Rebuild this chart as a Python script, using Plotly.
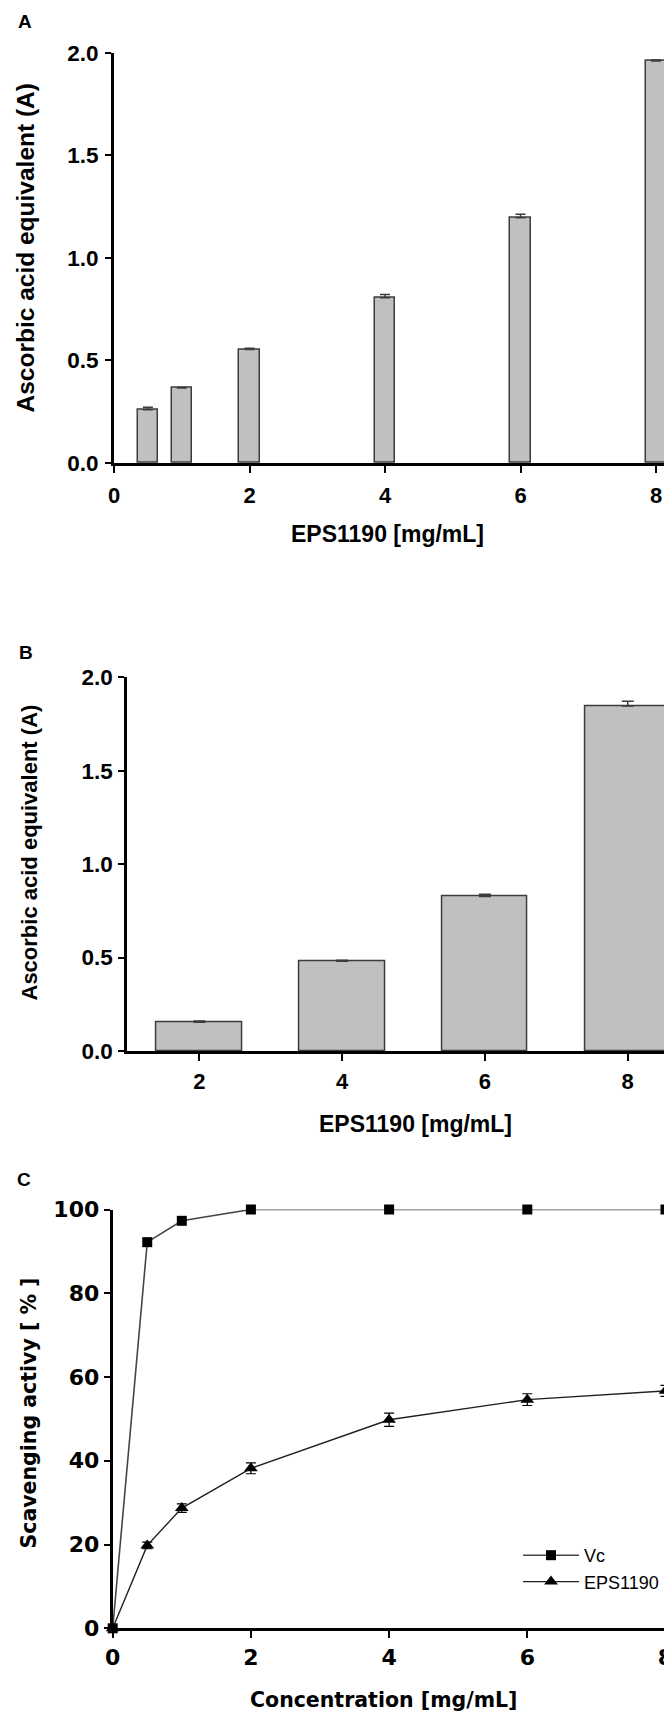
import plotly.graph_objects as go

W, H = 672, 1714
OFF = 8  # the page body adds an 8px margin; shift layout so it lands on the reference grid

# ---------------- data ----------------
# Panel A
a_conc = [0.5, 1, 2, 4, 6, 8]
a_val = [0.260, 0.366, 0.553, 0.806, 1.195, 1.960]
a_err = [0.012, 0.002, 0.006, 0.015, 0.017, 0.004]

# Panel B
b_conc = [2, 4, 6, 8]
b_val = [0.154, 0.481, 0.827, 1.846]
b_err = [0.006, 0.005, 0.012, 0.026]

# Panel C
c_conc = [0, 0.5, 1, 2, 4, 6, 8]
vc_val = [0, 92.2, 97.3, 100, 100, 100, 100]
eps_val = [0, 19.8, 28.7, 38.2, 49.8, 54.6, 56.7]
eps_err = [0, 0.8, 1.0, 1.3, 1.6, 1.4, 1.3]

a_ticks = [0, 2, 4, 6, 8]
b_ticks = [2, 4, 6, 8]
c_ticks = [0, 2, 4, 6, 8]

AR = "Liberation Sans, Arial, sans-serif"
DJ = "DejaVu Sans, sans-serif"


def px_x(p):
    return (p - OFF) / W


def px_y(p):
    return 1 - (p - OFF) / H


fig = go.Figure()

bar_style = dict(marker=dict(color="#c0c0c0", line=dict(color="#3c3c3c", width=1.5)),
                 showlegend=False)

fig.add_trace(go.Bar(x=a_conc, y=a_val, width=0.3,
                     error_y=dict(type="data", array=a_err, symmetric=False,
                                  arrayminus=[0] * len(a_err), color="#3c3c3c",
                                  thickness=1.5, width=5),
                     xaxis="x", yaxis="y", **bar_style))

fig.add_trace(go.Bar(x=b_conc, y=b_val, width=1.2,
                     error_y=dict(type="data", array=b_err, symmetric=False,
                                  arrayminus=[0] * len(b_err), color="#3c3c3c",
                                  thickness=1.5, width=6),
                     xaxis="x2", yaxis="y2", **bar_style))

fig.add_trace(go.Scatter(x=c_conc, y=vc_val, name="Vc", mode="lines+markers",
                         line=dict(color="#454545", width=1.6),
                         marker=dict(symbol="square", size=10, color="black"),
                         cliponaxis=False, xaxis="x3", yaxis="y3"))

fig.add_trace(go.Scatter(x=c_conc, y=eps_val, name="EPS1190", mode="lines+markers",
                         line=dict(color="#202020", width=1.4),
                         marker=dict(symbol="triangle-up", size=12, color="black"),
                         error_y=dict(type="data", array=eps_err, color="black",
                                      thickness=1.2, width=5),
                         cliponaxis=False, xaxis="x3", yaxis="y3"))

axis_common = dict(showline=True, linewidth=3, linecolor="black", showgrid=False,
                   zeroline=False, ticks="outside", tickcolor="black", tickwidth=2,
                   fixedrange=True, automargin=False)

XR = px_x(672)

fig.update_layout(
    width=W, height=H,
    autosize=False,
    margin=dict(l=0, r=0, t=0, b=0, pad=0, autoexpand=False),
    paper_bgcolor="white", plot_bgcolor="white",
    bargap=0,
    xaxis=dict(domain=[px_x(114), XR], range=[0, 8.236], tickvals=a_ticks, ticklen=7,
               anchor="y", tickfont=dict(family=AR, size=22, color="black", weight="bold"),
               ticklabelstandoff=4, **axis_common),
    yaxis=dict(domain=[px_y(463), px_y(52.7)], range=[0, 2.0], dtick=0.5,
               tickformat=".1f", ticklen=6, anchor="x",
               tickfont=dict(family=AR, size=22.5, color="black", weight="bold"),
               ticklabelstandoff=2, **axis_common),
    xaxis2=dict(domain=[px_x(127.3), XR], range=[0.99, 8.62], tickvals=b_ticks, ticklen=7,
                anchor="y2", tickfont=dict(family=AR, size=22, color="black", weight="bold"),
                ticklabelstandoff=2, **axis_common),
    yaxis2=dict(domain=[px_y(1051), px_y(677.3)], range=[0, 2.0], dtick=0.5,
                tickformat=".1f", ticklen=6, anchor="x2",
                tickfont=dict(family=AR, size=22.5, color="black", weight="bold"),
                ticklabelstandoff=1, **axis_common),
    xaxis3=dict(domain=[px_x(112.7), XR], range=[0, 8.094], tickvals=c_ticks, ticklen=7,
                anchor="y3", tickfont=dict(family=DJ, size=22, color="black", weight="bold"),
                ticklabelstandoff=0, **axis_common),
    yaxis3=dict(domain=[px_y(1628.3), px_y(1209.5)], range=[0, 100], dtick=20,
                ticklen=6, anchor="x3",
                tickfont=dict(family=DJ, size=22, color="black", weight="bold"),
                ticklabelstandoff=0, **axis_common),
    legend=dict(x=px_x(518), y=px_y(1537), xanchor="left", yanchor="top",
                font=dict(family=AR, size=18, color="black"),
                bgcolor="rgba(0,0,0,0)", itemwidth=56, tracegroupgap=0),
)


def ann(text, x, y, family, size, angle=0, bold=True):
    fig.add_annotation(text=text, x=px_x(x), y=px_y(y), xref="paper", yref="paper",
                       showarrow=False, textangle=angle, xanchor="center", yanchor="middle",
                       font=dict(family=family, size=size, color="black",
                                 weight="bold" if bold else "normal"))


ann("A", 25, 21.5, AR, 19)
ann("B", 26, 652, AR, 19)
ann("C", 24, 1179, AR, 19)
ann("Ascorbic acid equivalent (A)", 24.5, 248, AR, 24.5, angle=-90)
ann("EPS1190 [mg/mL]", 387, 534, AR, 23)
ann("Ascorbic acid equivalent (A)", 29.5, 853, AR, 22, angle=-90)
ann("EPS1190 [mg/mL]", 415, 1124, AR, 23)
ann("Scavenging activy [ % ]", 28, 1413.5, DJ, 20.5, angle=-90)
ann("Concentration [mg/mL]", 383.5, 1700, DJ, 20.5)

fig.write_html("out.html")
